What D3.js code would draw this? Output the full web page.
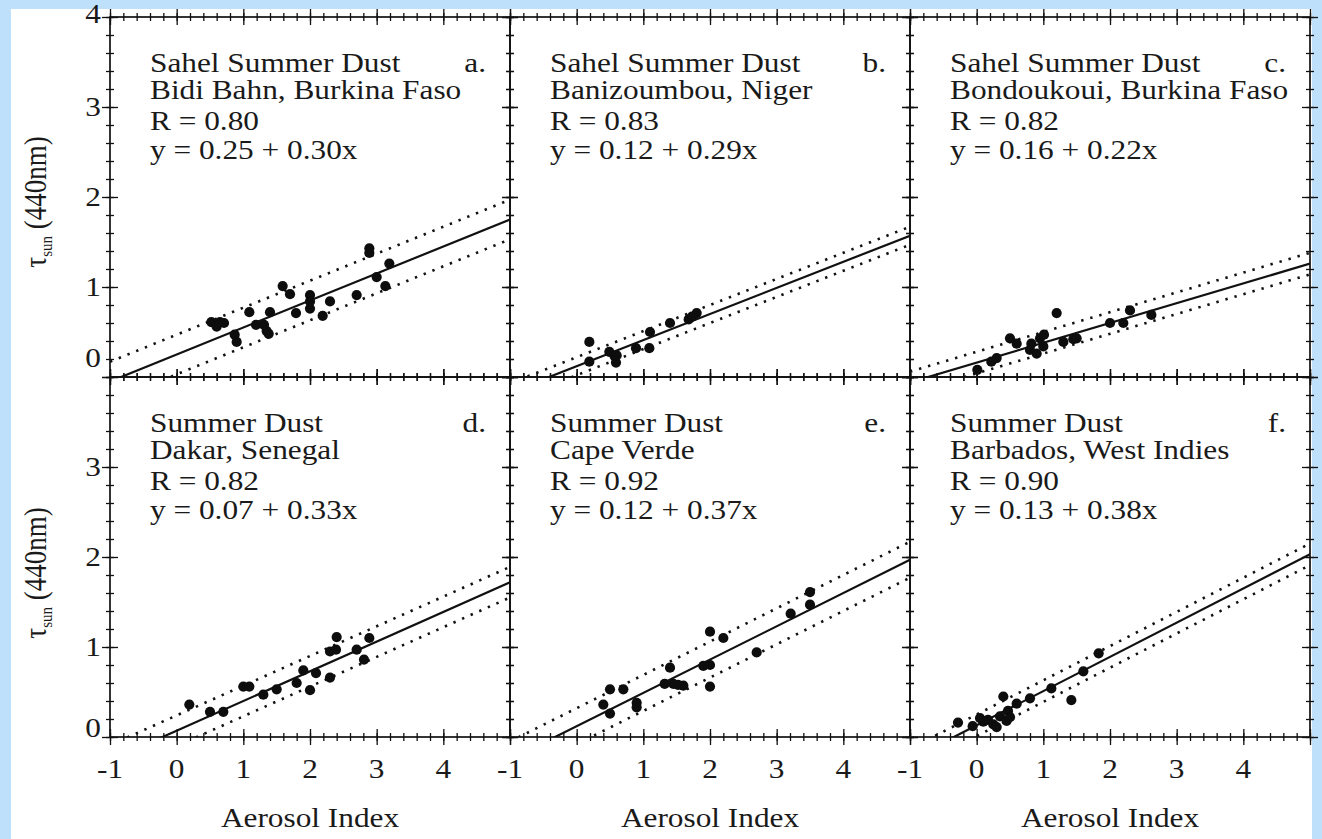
<!DOCTYPE html>
<html>
<head>
<meta charset="utf-8">
<script src="https://cdn.jsdelivr.net/npm/d3@7"></script>
<style>
  html, body { margin: 0; padding: 0; background: #bee0fb; }
  svg { display: block; }
  text { font-family: "Liberation Serif", "DejaVu Serif", serif; fill: #1a1a1a; }
</style>
</head>
<body>
<svg id="chart" width="1322" height="839"></svg>
<script>
// ---------------- data ----------------
const panelLetters = ["a.", "b.", "c.", "d.", "e.", "f."];
const panelTitles = ["Sahel Summer Dust", "Sahel Summer Dust", "Sahel Summer Dust",
                     "Summer Dust", "Summer Dust", "Summer Dust"];
const siteNames = ["Bidi Bahn, Burkina Faso", "Banizoumbou, Niger", "Bondoukoui, Burkina Faso",
                   "Dakar, Senegal", "Cape Verde", "Barbados, West Indies"];
const rValues = [0.80, 0.83, 0.82, 0.82, 0.92, 0.90];
const intercepts = [0.25, 0.12, 0.16, 0.07, 0.12, 0.13];
const slopes = [0.30, 0.29, 0.22, 0.33, 0.37, 0.38];
const bandWidths = [0.22, 0.10, 0.12, 0.17, 0.20, 0.12];

const xTickLabels = ["-1", "0", "1", "2", "3", "4"];
const yTickLabelsTop = ["0", "1", "2", "3", "4"];
const yTickLabelsBottom = ["0", "1", "2", "3"];
const xAxisTitle = "Aerosol Index";

const pointsA = [[0.52,0.61],[0.60,0.56],[0.65,0.61],[0.71,0.60],[0.87,0.47],[0.90,0.39],
  [1.09,0.72],[1.19,0.58],[1.31,0.58],[1.35,0.51],[1.38,0.48],[1.40,0.72],[1.59,1.01],
  [1.70,0.92],[1.79,0.71],[2.00,0.91],[2.00,0.84],[2.00,0.76],[2.19,0.68],[2.30,0.84],
  [2.70,0.91],[2.89,1.43],[2.89,1.38],[3.00,1.11],[3.19,1.26],[3.13,1.01]];
const pointsB = [[0.19,0.39],[0.19,0.17],[0.49,0.28],[0.57,0.23],[0.59,0.16],[0.60,0.24],
  [0.89,0.32],[1.09,0.32],[1.10,0.50],[1.40,0.60],[1.68,0.64],[1.73,0.67],[1.80,0.71]];
const pointsC = [[0.01,0.08],[0.22,0.17],[0.30,0.21],[0.50,0.43],[0.60,0.37],[0.80,0.30],
  [0.82,0.37],[0.90,0.26],[0.95,0.43],[1.01,0.47],[1.00,0.34],[1.20,0.71],[1.30,0.39],
  [1.45,0.42],[1.50,0.43],[2.00,0.60],[2.20,0.60],[2.30,0.74],[2.62,0.69]];
const pointsD = [[0.19,0.36],[0.50,0.28],[0.70,0.28],[1.00,0.56],[1.09,0.56],[1.30,0.47],
  [1.50,0.53],[1.80,0.60],[1.90,0.74],[2.00,0.52],[2.09,0.71],[2.30,0.66],[2.30,0.95],
  [2.39,0.97],[2.40,1.11],[2.70,0.97],[2.81,0.86],[2.89,1.10]];
const pointsE = [[0.40,0.36],[0.50,0.26],[0.50,0.53],[0.70,0.53],[0.90,0.38],[0.90,0.33],
  [1.32,0.59],[1.40,0.77],[1.45,0.59],[1.52,0.58],[1.60,0.57],[1.90,0.79],[2.00,0.80],
  [2.00,0.56],[2.00,1.17],[2.20,1.10],[2.70,0.94],[3.21,1.37],[3.50,1.61],[3.50,1.47]];
const pointsF = [[-0.28,0.16],[-0.06,0.12],[0.05,0.21],[0.10,0.17],[0.17,0.19],[0.25,0.14],
  [0.30,0.11],[0.35,0.23],[0.40,0.45],[0.45,0.18],[0.47,0.29],[0.50,0.22],[0.60,0.37],
  [0.80,0.43],[1.12,0.54],[1.42,0.41],[1.60,0.73],[1.83,0.93]];
const panelPoints = [pointsA, pointsB, pointsC, pointsD, pointsE, pointsF];

// ---------------- layout ----------------
const W = 1322, H = 839;
const left0 = 110, top0 = 17, panelW = 400, panelH = 360;
const SX = 1.16;          // horizontal stretch of the original figure
const FS = 27;            // base font size

const svg = d3.select("#chart");
svg.append("rect").attr("x", 11).attr("y", 9).attr("width", 1301).attr("height", 830).attr("fill", "#ffffff");

function stext(parent, x, y, str, anchor, size) {
  return parent.append("text")
    .attr("transform", `translate(${x},${y}) scale(${SX},1)`)
    .attr("text-anchor", anchor || "start")
    .attr("font-size", size || FS)
    .text(str);
}

const majorVals = d3.range(-1, 5.001, 1);
const majorY = d3.range(0, 4.001, 1);
const minorX = d3.range(-1, 5.001, 0.2).map(v => +v.toFixed(2));
const minorY = d3.range(0, 4.001, 0.2).map(v => +v.toFixed(2));

function tickPair(g, makeAxis, vals, size) {
  [size, -size].forEach(s => {
    const a = makeAxis().tickValues(vals).tickSize(s).tickFormat("");
    const gg = g.append("g").call(a);
    gg.select(".domain").remove();
    gg.selectAll("line").attr("stroke", "#111").attr("stroke-width", 1.3);
  });
}

panelPoints.forEach((pts, i) => {
  const col = i % 3, row = Math.floor(i / 3);
  const x0 = left0 + col * panelW, y0 = top0 + row * panelH;
  const x = d3.scaleLinear().domain([-1, 5]).range([x0, x0 + panelW]);
  const y = d3.scaleLinear().domain([0, 4]).range([y0 + panelH, y0]);
  const g = svg.append("g");

  const clipId = "clip" + i;
  svg.append("clipPath").attr("id", clipId).append("rect")
    .attr("x", x0).attr("y", y0).attr("width", panelW).attr("height", panelH);

  // ticks on all four sides, crossing the frame
  const gb = g.append("g").attr("transform", `translate(0,${y(0)})`);
  tickPair(gb, () => d3.axisBottom(x), minorX, 4);
  tickPair(gb, () => d3.axisBottom(x), majorVals, 8);
  const gt = g.append("g").attr("transform", `translate(0,${y(4)})`);
  tickPair(gt, () => d3.axisTop(x), minorX, 4);
  tickPair(gt, () => d3.axisTop(x), majorVals, 8);
  const gl = g.append("g").attr("transform", `translate(${x(-1)},0)`);
  tickPair(gl, () => d3.axisLeft(y), minorY, 4);
  tickPair(gl, () => d3.axisLeft(y), majorY, 8);
  const gr = g.append("g").attr("transform", `translate(${x(5)},0)`);
  tickPair(gr, () => d3.axisRight(y), minorY, 4);
  tickPair(gr, () => d3.axisRight(y), majorY, 8);

  // frame
  g.append("rect").attr("x", x0).attr("y", y0).attr("width", panelW).attr("height", panelH)
    .attr("fill", "none").attr("stroke", "#111").attr("stroke-width", 1.7);

  // regression + band lines
  const a = intercepts[i], b = slopes[i], d = bandWidths[i];
  const lineGen = d3.line().x(p => x(p[0])).y(p => y(p[1]));
  const plot = g.append("g").attr("clip-path", `url(#${clipId})`);
  [[a, "none", 2.2], [a + d, "2.4,7", 2.6], [a - d, "2.4,7", 2.6]].forEach(([c, dash, w]) => {
    plot.append("path")
      .attr("d", lineGen([[-1, c + b * -1], [5, c + b * 5]]))
      .attr("fill", "none").attr("stroke", "#111")
      .attr("stroke-width", w).attr("stroke-dasharray", dash);
  });

  plot.selectAll("circle.pt").data(pts).enter().append("circle")
    .attr("cx", p => x(p[0])).attr("cy", p => y(p[1])).attr("r", 5.1).attr("fill", "#0d0d0d");

  // annotation text
  const tx = x0 + 40;
  stext(g, tx, y0 + 55, panelTitles[i]);
  stext(g, tx, y0 + 82, siteNames[i]);
  stext(g, tx, y0 + 113, "R = " + rValues[i].toFixed(2));
  stext(g, tx, y0 + 142, "y = " + intercepts[i].toFixed(2) + " + " + slopes[i].toFixed(2) + "x");
  stext(g, x0 + panelW - 24, y0 + 55, panelLetters[i], "end");

  // tick labels
  if (col === 0) {
    const labels = row === 0 ? yTickLabelsTop : yTickLabelsBottom;
    labels.forEach(l => {
      const v = +l;
      let by = y(v) + 9;
      if (v === 0) by = row === 0 ? y(0) - 10 : y(0);
      if (v === 4) by = y(4) + 6;
      stext(svg, x0 - 9, by, l, "end");
    });
  }
  if (row === 1) {
    xTickLabels.forEach(l => {
      stext(svg, x(+l), y(0) + 41, l, "middle");
    });
    stext(svg, x(2), 827, xAxisTitle, "middle");
  }
});

// y-axis titles
[202, 573].forEach(cy => {
  const t = svg.append("text")
    .attr("transform", `translate(46,${cy}) scale(${SX},1) rotate(-90)`)
    .attr("text-anchor", "middle").attr("font-size", 27);
  t.append("tspan").text("\u03c4");
  t.append("tspan").attr("font-size", 15).attr("dy", 5).text("sun");
  t.append("tspan").attr("dy", -5).text(" (440nm)");
});
</script>
</body>
</html>
